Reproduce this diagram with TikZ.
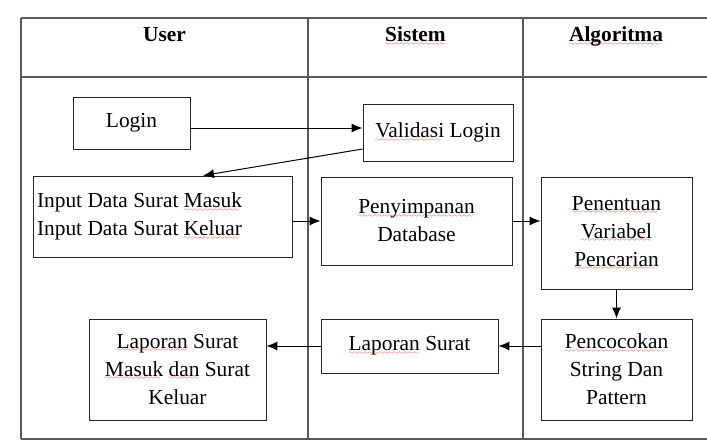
\documentclass[tikz,border=0pt]{standalone}
\usepackage{fontspec}
\setmainfont{Liberation Serif}
\usepackage{xcolor}
\usetikzlibrary{calc,arrows.meta}
\font\sixly=lasy6
\newcommand{\spell}[1]{\setbox0=\hbox{#1}\rlap{\lower3.5pt\hbox to \wd0{\color{red}\leaders\hbox{\sixly\char58}\hfill}}\box0\relax}
\tikzset{
    box/.style={draw=black!85,line width=0.9pt,inner sep=4pt,align=center},
    arr/.style={-{Latex[length=11pt,width=9pt]},line width=1pt},
    tbl/.style={draw=black!65,line width=1.4pt},
    head/.style={font=\fontsize{21.4}{28}\selectfont\bfseries,anchor=base}
}

\begin{document}
\begin{tikzpicture}[x=1pt,y=-1pt,font=\fontsize{21.4}{28}\selectfont]
\useasboundingbox (0,0) rectangle (707,444);

%%% TABLE %%%
\coordinate (TL) at (21,18); % top left corner
\coordinate (TR) at (707,18); % top right, cut off
\coordinate (BL) at (21,439); % bottom left corner
\coordinate (BR) at (707,439); % bottom right, cut off
\coordinate (HL) at (21,77); % under the heads
\coordinate (C1) at (308,18); % first column line
\coordinate (C2) at (523,18); % second column line
\draw[tbl] (TL) -- (TR);
\draw[tbl] (HL) -- (HL -| TR);
\draw[tbl] (BL) -- (BR);
\draw[tbl] (TL) -- (BL);
\draw[tbl] (C1) -- (C1 |- BL);
\draw[tbl] (C2) -- (C2 |- BL);

\node[head] (huser) at (164.5,42) {User};
\node[head] (hsistem) at (415.5,42) {\spell{Sistem}};
\node[head] (halgo) at (616,42) {\spell{Algoritma}};

%%% BOXES %%%
\node[box,minimum width=117pt,minimum height=52pt] (login) at (131.5,123) {Login};
\node[box,minimum width=150pt,minimum height=57pt] (valid) at (438,132.5) {\spell{Validasi} Login};
\node[box,text width=251pt,minimum height=81pt,align=flush left] (input) at (162.5,216.5) {Input Data Surat \spell{Masuk}\\Input Data Surat \spell{Keluar}};
\node[box,minimum width=191pt,minimum height=88pt] (penyimpanan) at (416.5,221) {\spell{Penyimpanan}\\Database};
\node[box,minimum width=151pt,minimum height=112pt] (penentuan) at (616.5,233) {\spell{Penentuan}\\\spell{Variabel}\\\spell{Pencarian}};
\node[box,minimum width=177pt,minimum height=101pt] (lapmasuk) at (177.5,369.5) {\spell{Laporan} Surat\\\spell{Masuk} \spell{dan} Surat\\Keluar};
\node[box,minimum width=177pt,minimum height=54pt] (lapsurat) at (409.5,346) {\spell{Laporan} Surat};
\node[box,minimum width=151pt,minimum height=101pt] (pencocokan) at (616.5,369.5) {\spell{Pencocokan}\\String Dan\\Pattern};

%%% ARROWS %%%
\draw[arr] ([yshift=-5pt]login.east) -- ([yshift=4.5pt]valid.west);
\draw[arr] ([yshift=-16.5pt]valid.west) -- ([xshift=40.5pt]input.north);
\draw[arr] (input.east |- penyimpanan.west) -- (penyimpanan.west);
\draw[arr] (penyimpanan.east) -- (penyimpanan.east -| penentuan.west);
\draw[arr] (penentuan.south) -- (pencocokan.north);
\draw[arr] (pencocokan.west |- lapsurat.east) -- (lapsurat.east);
\draw[arr] (lapsurat.west) -- (lapsurat.west -| lapmasuk.east);
\end{tikzpicture}
\end{document}
